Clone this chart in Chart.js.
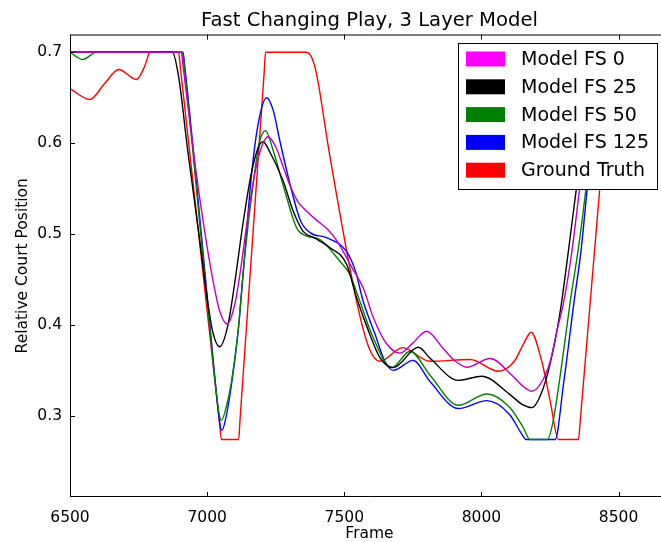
<!DOCTYPE html>
<html>
<head>
<meta charset="utf-8">
<script src="https://cdn.jsdelivr.net/npm/chart.js@4.4.1/dist/chart.umd.min.js"></script>
<style>
    html, body { margin: 0; padding: 0; background: #fff; overflow: hidden; }
    #wrap { width: 669px; height: 542px; }
</style>
</head>
<body>
<div id="wrap"><canvas id="ChartPlay" width="669" height="542"></canvas></div>
<script>
// tick labels
const xTicks = [6500, 7000, 7500, 8000, 8500];
const yTicks = [0.3, 0.4, 0.5, 0.6, 0.7];

// Model FS 0
const fs0Frames = [6500, 6906, 6912, 6954, 6991, 7022, 7046, 7073, 7101, 7125, 7141, 7174, 7200, 7222, 7250, 7275, 7300, 7330, 7360, 7400, 7440, 7472, 7530, 7570, 7606, 7655, 7703, 7750, 7800, 7861, 7905, 7947, 8032, 8110, 8150, 8184, 8225, 8251, 8275, 8300, 8330, 8357, 8418, 8424, 8635];
const fs0Values = [0.7, 0.7, 0.686, 0.581, 0.503, 0.448, 0.415, 0.401, 0.423, 0.467, 0.503, 0.567, 0.597, 0.607, 0.596, 0.576, 0.555, 0.536, 0.526, 0.515, 0.505, 0.493, 0.462, 0.44, 0.408, 0.379, 0.369, 0.38, 0.393, 0.374, 0.36, 0.3535, 0.363, 0.345, 0.333, 0.327, 0.34, 0.36, 0.393, 0.425, 0.481, 0.547, 0.686, 0.7, 0.7];

// Model FS 25
const fs25Frames = [6500, 6873, 6895, 6930, 6970, 7000, 7020, 7046, 7076, 7100, 7130, 7160, 7186, 7204, 7229, 7277, 7314, 7350, 7390, 7448, 7508, 7545, 7594, 7630, 7679, 7770, 7812, 7916, 8001, 8104, 8150, 8184, 8225, 8260, 8290, 8317, 8345, 8406, 8412, 8635];
const fs25Values = [0.7, 0.7, 0.675, 0.59, 0.5, 0.43, 0.393, 0.376, 0.4, 0.445, 0.51, 0.565, 0.595, 0.6015, 0.59, 0.5586, 0.525, 0.503, 0.496, 0.485, 0.467, 0.43, 0.389, 0.364, 0.353, 0.3755, 0.3637, 0.339, 0.3436, 0.3234, 0.3123, 0.309, 0.33, 0.37, 0.42, 0.481, 0.547, 0.686, 0.7, 0.7];

// Model FS 50
const fs50Frames = [6500, 6547, 6596, 6910, 6916, 6980, 7030, 7045, 7052, 7070, 7089, 7113, 7134, 7174, 7192, 7213, 7241, 7283, 7326, 7360, 7411, 7484, 7520, 7557, 7600, 7673, 7740, 7812, 7916, 8020, 8104, 8153, 8177, 8241, 8262, 8290, 8324, 8354, 8380, 8430, 8436, 8635];
const fs50Values = [0.7, 0.692, 0.7, 0.7, 0.686, 0.49, 0.335, 0.3, 0.295, 0.31, 0.338, 0.393, 0.467, 0.5696, 0.6026, 0.6137, 0.5916, 0.5475, 0.507, 0.498, 0.494, 0.47, 0.4557, 0.426, 0.39, 0.353, 0.371, 0.345, 0.3116, 0.324, 0.309, 0.287, 0.274, 0.274, 0.295, 0.35, 0.426, 0.485, 0.547, 0.686, 0.7, 0.7];

// Model FS 125
const fs125Frames = [6500, 6912, 6918, 6982, 7032, 7046, 7054, 7070, 7089, 7113, 7131, 7162, 7186, 7217, 7241, 7265, 7302, 7340, 7375, 7435, 7508, 7540, 7569, 7612, 7648, 7679, 7751, 7812, 7916, 8020, 8104, 8145, 8163, 8269, 8299, 8338, 8363, 8385, 8439, 8445, 8635];
const fs125Values = [0.7, 0.7, 0.686, 0.49, 0.33, 0.292, 0.284, 0.3, 0.335, 0.393, 0.455, 0.566, 0.621, 0.65, 0.636, 0.6027, 0.555, 0.515, 0.5016, 0.496, 0.481, 0.46, 0.426, 0.39, 0.36, 0.35, 0.361, 0.338, 0.308, 0.3167, 0.301, 0.281, 0.274, 0.274, 0.334, 0.426, 0.481, 0.547, 0.686, 0.7, 0.7];

// Ground Truth
const truthFrames = [6500, 6572, 6625, 6678, 6742, 6770, 6786, 6790, 6896, 6902, 7046, 7052, 7115, 7120, 7208, 7213, 7359, 7380, 7399, 7444, 7545, 7590, 7630, 7713, 7812, 7959, 8062, 8120, 8155, 8181, 8220, 8251, 8281, 8354, 8360, 8468, 8474, 8635];
const truthValues = [0.66, 0.648, 0.665, 0.681, 0.67, 0.683, 0.697, 0.7, 0.7, 0.684, 0.29, 0.274, 0.274, 0.296, 0.678, 0.7, 0.7, 0.695, 0.676, 0.592, 0.426, 0.375, 0.36, 0.375, 0.36, 0.362, 0.349, 0.36, 0.38, 0.392, 0.36, 0.316, 0.274, 0.274, 0.293, 0.681, 0.7, 0.7];

const font = 'DejaVu Sans';

function points(frames, values){
    return frames.map((f, i) => ({x: f, y: values[i]}));
}

function line(label, color, frames, values){
    return {
        label: label,
        data: points(frames, values),
        borderColor: color,
        backgroundColor: color,
        borderWidth: 1.4,
        pointRadius: 0,
        fill: false,
        cubicInterpolationMode: 'monotone'
    };
}

// swatch colours of the legend (patches, brighter magenta than the line)
const swatchColors = ['#ff00ff', '#000000', '#008000', '#0000ff', '#ff0000'];

const framePlugin = {
    id: 'frameAndLegend',
    afterDraw(chart){
        const {ctx, chartArea: a, scales: {x, y}} = chart;
        ctx.save();
        ctx.strokeStyle = '#000';
        ctx.lineWidth = 1;
        // spines
        ctx.beginPath();
        ctx.moveTo(a.right + 1, a.top + 0.5);
        ctx.lineTo(a.left + 0.5, a.top + 0.5);
        ctx.lineTo(a.left + 0.5, a.bottom - 0.5);
        ctx.lineTo(a.right + 1, a.bottom - 0.5);
        ctx.stroke();
        // inward ticks
        ctx.beginPath();
        xTicks.forEach(v => {
            const px = Math.round(x.getPixelForValue(v)) + 0.5;
            ctx.moveTo(px, a.bottom); ctx.lineTo(px, a.bottom - 5);
            ctx.moveTo(px, a.top); ctx.lineTo(px, a.top + 5);
        });
        yTicks.forEach(v => {
            const py = Math.round(y.getPixelForValue(v)) + 0.5;
            ctx.moveTo(a.left, py); ctx.lineTo(a.left + 5, py);
        });
        ctx.stroke();

        // legend box
        const bx = 458.5, by = 43.5, bw = 199, bh = 146;
        ctx.fillStyle = '#fff';
        ctx.fillRect(bx, by, bw, bh);
        ctx.strokeRect(bx, by, bw, bh);
        ctx.font = '19px "' + font + '"';
        ctx.textBaseline = 'middle';
        chart.data.datasets.forEach((ds, i) => {
            const cy = 59 + i * 27.8;
            ctx.fillStyle = swatchColors[i];
            ctx.fillRect(466, cy - 7.5, 39, 15);
            ctx.fillStyle = '#000';
            ctx.fillText(ds.label, 521, cy + 1);
        });
        ctx.restore();
    }
};

const ChartPlay = new Chart(document.getElementById('ChartPlay'), {
    type: 'line',
    data: {
        datasets: [
            line('Model FS 0', '#bf00bf', fs0Frames, fs0Values),
            line('Model FS 25', '#000000', fs25Frames, fs25Values),
            line('Model FS 50', '#008000', fs50Frames, fs50Values),
            line('Model FS 125', '#0000ff', fs125Frames, fs125Values),
            line('Ground Truth', '#ff0000', truthFrames, truthValues)
        ]
    },
    options: {
        responsive: false,
        animation: false,
        devicePixelRatio: 1,
        layout: { padding: 0 },
        plugins: {
            legend: { display: false },
            tooltip: { enabled: false },
            title: {
                display: true,
                text: 'Fast Changing Play, 3 Layer Model',
                fullSize: false,
                color: '#000',
                font: { family: font, size: 19.6, weight: 'normal' },
                padding: { top: 9, bottom: 2 }
            }
        },
        scales: {
            x: {
                type: 'linear',
                min: 6500,
                max: 8684,
                grid: { display: false, drawTicks: false },
                border: { display: false },
                afterBuildTicks: scale => { scale.ticks = xTicks.map(v => ({value: v})); },
                afterFit: scale => { scale.height = 45; },
                ticks: {
                    color: '#000',
                    padding: 12,
                    maxRotation: 0,
                    font: { family: font, size: 15.5 },
                    callback: v => String(v)
                },
                title: {
                    display: true,
                    text: 'Frame',
                    color: '#000',
                    font: { family: font, size: 15.5 },
                    padding: { top: 0, bottom: -1 }
                }
            },
            y: {
                min: 0.2107,
                max: 0.7195,
                grid: { display: false, drawTicks: false },
                border: { display: false },
                afterBuildTicks: scale => { scale.ticks = yTicks.map(v => ({value: v})); },
                afterFit: scale => { scale.width = 70; },
                ticks: {
                    color: '#000',
                    padding: 8,
                    font: { family: font, size: 15.5 },
                    callback: v => v.toFixed(1)
                },
                title: {
                    display: true,
                    text: 'Relative Court Position',
                    color: '#000',
                    font: { family: font, size: 15.5 },
                    padding: { top: 13.5, bottom: 0 }
                }
            }
        }
    },
    plugins: [framePlugin]
});
</script>
</body>
</html>
